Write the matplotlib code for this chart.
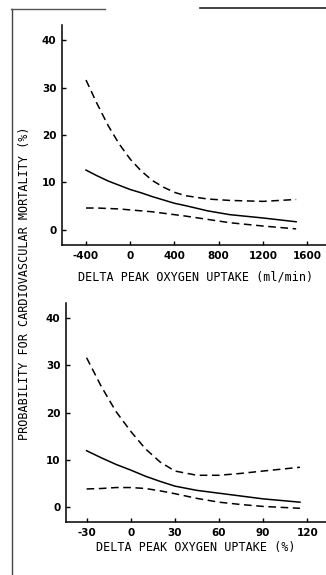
import matplotlib.pyplot as plt
from matplotlib.lines import Line2D

plt.rcParams['axes.unicode_minus'] = False

# Delta peak oxygen uptake, absolute (ml/min)
abs_x = [-400, -300, -200, -100, 0, 100, 200, 300, 400, 500, 700, 900, 1200, 1500]
abs_est = [12.6, 11.4, 10.3, 9.4, 8.5, 7.8, 7.0, 6.3, 5.6, 5.1, 4.0, 3.2, 2.5, 1.7]
abs_upper = [31.6, 26.6, 22.0, 18.1, 14.9, 12.4, 10.4, 9.0, 7.9, 7.2, 6.5, 6.2, 6.0, 6.4]
abs_lower = [4.6, 4.6, 4.5, 4.4, 4.2, 4.0, 3.8, 3.5, 3.2, 2.9, 2.2, 1.5, 0.8, 0.2]

# Delta peak oxygen uptake, relative (%)
rel_x = [-30, -20, -10, 0, 10, 20, 30, 45, 60, 75, 90, 115]
rel_est = [11.9, 10.4, 9.0, 7.8, 6.5, 5.4, 4.4, 3.5, 2.9, 2.3, 1.7, 1.0]
rel_upper = [31.6, 25.5, 20.2, 16.0, 12.3, 9.5, 7.6, 6.7, 6.7, 7.1, 7.6, 8.4]
rel_lower = [3.8, 3.9, 4.1, 4.1, 3.9, 3.4, 2.8, 1.8, 1.0, 0.5, 0.1, -0.3]

abs_ticks = [-400, 0, 400, 800, 1200, 1600]
rel_ticks = [-30, 0, 30, 60, 90, 120]
y_ticks = [0, 10, 20, 30, 40]

W, H = 326, 575
fig = plt.figure(figsize=(W / 100, H / 100), dpi=100)
fig.patch.set_facecolor('white')

mono = 'DejaVu Sans Mono'


def px_box(left, top, right, bottom):
    return [left / W, 1 - bottom / H, (right - left) / W, (bottom - top) / H]


def draw_panel(ax, x, est, upper, lower, xticks, xlim):
    ax.plot(x, est, color='black', lw=1.1)
    ax.plot(x, upper, color='black', lw=1.1, dashes=(5, 3))
    ax.plot(x, lower, color='black', lw=1.1, dashes=(5, 3))
    ax.set_xlim(*xlim)
    ax.set_ylim(-3.2, 43.2)
    ax.set_xticks(xticks)
    ax.set_yticks(y_ticks)
    for s in ['top', 'right']:
        ax.spines[s].set_visible(False)
    for s in ['left', 'bottom']:
        ax.spines[s].set_linewidth(1.1)
    ax.tick_params(direction='in', length=3, width=1, labelsize=7.5, pad=4)
    for lab in ax.get_xticklabels() + ax.get_yticklabels():
        lab.set_fontweight('bold')
    ax.set_facecolor('none')


ax1 = fig.add_axes(px_box(62, 25, 326, 245))
draw_panel(ax1, abs_x, abs_est, abs_upper, abs_lower, abs_ticks, (-617, 1770))

ax2 = fig.add_axes(px_box(66, 303, 326, 522))
draw_panel(ax2, rel_x, rel_est, rel_upper, rel_lower, rel_ticks, (-44, 132.7))

fig.text(196 / W, 1 - 277 / H, 'DELTA PEAK OXYGEN UPTAKE (ml/min)',
         family=mono, fontsize=8.5, ha='center', va='center')
fig.text(196 / W, 1 - 548 / H, 'DELTA PEAK OXYGEN UPTAKE (%)',
         family=mono, fontsize=8.5, ha='center', va='center')
fig.text(25 / W, 1 - 283 / H, 'PROBABILITY FOR CARDIOVASCULAR MORTALITY (%)',
         family=mono, fontsize=8.5, ha='center', va='center', rotation=90)

# page frame
fig.add_artist(Line2D([12 / W, 12 / W], [1 - 9 / H, 0], color='#444444', lw=1.0))
fig.add_artist(Line2D([11 / W, 105 / W], [1 - 9 / H, 1 - 9 / H], color='#555555', lw=1.0))
fig.add_artist(Line2D([200 / W, 1], [1 - 8 / H, 1 - 8 / H], color='#222222', lw=1.2))

fig.savefig('out.png', dpi=100)
